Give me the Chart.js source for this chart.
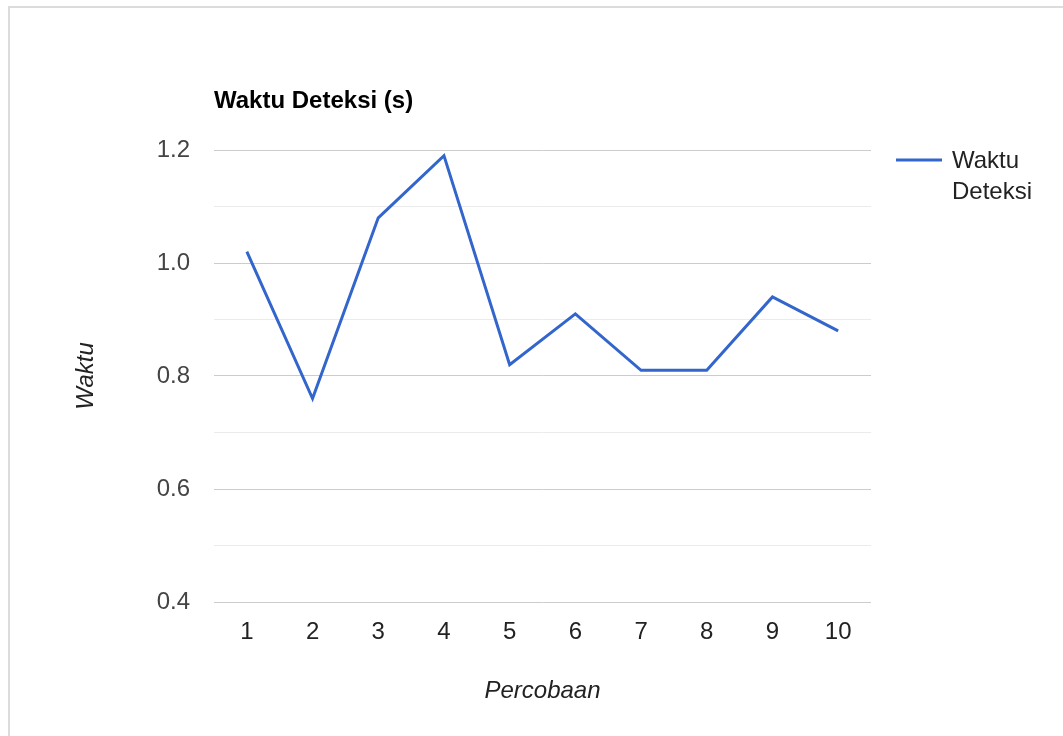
<!DOCTYPE html>
<html>
<head>
<meta charset="utf-8">
<title>Waktu Deteksi (s)</title>
<script src="https://cdn.jsdelivr.net/npm/chart.js@4"></script>
<style>
  html, body { margin: 0; padding: 0; background: #fff; }
  #wrap { position: relative; width: 1063px; height: 736px; overflow: hidden; }
  #frame { position: absolute; left: 8px; top: 6px; width: 1200px; height: 900px; border: 2px solid #dcdcdc; box-sizing: border-box; }
  #chart { position: absolute; left: 0; top: 0; }
</style>
</head>
<body>
<div id="wrap">
  <div id="frame"></div>
  <canvas id="chart" width="1063" height="736"></canvas>
</div>
<script>
// Data
const percobaan = ["1", "2", "3", "4", "5", "6", "7", "8", "9", "10"]; // x categories
const waktuDeteksi = [1.02, 0.76, 1.08, 1.19, 0.82, 0.91, 0.81, 0.81, 0.94, 0.88]; // seconds
const yMin = 0.4;
const yMax = 1.2;

const FONT = "'Liberation Sans', Arial, sans-serif";
const FONT_SIZE = 24;
const BLUE = "#3366cc";

// Draws the chart title (top left of plot) and the two-line legend on the right
const extrasPlugin = {
  id: "extras",
  afterDraw(chart) {
    const ctx = chart.ctx;
    const area = chart.chartArea;
    ctx.save();

    // title
    ctx.fillStyle = "#000";
    ctx.font = "bold " + FONT_SIZE + "px " + FONT;
    ctx.textAlign = "left";
    ctx.textBaseline = "middle";
    ctx.fillText("Waktu Deteksi (s)", area.left, area.top - 49);

    // legend
    const lx = area.right + 25;
    const ly = area.top + 10;
    ctx.strokeStyle = BLUE;
    ctx.lineWidth = 3;
    ctx.beginPath();
    ctx.moveTo(lx, ly);
    ctx.lineTo(lx + 46, ly);
    ctx.stroke();
    ctx.fillStyle = "#222";
    ctx.font = FONT_SIZE + "px " + FONT;
    ctx.fillText("Waktu", lx + 56, ly + 1);
    ctx.fillText("Deteksi", lx + 56, ly + 32);

    ctx.restore();
  },
};

const ctx = document.getElementById("chart").getContext("2d");

new Chart(ctx, {
  type: "line",
  data: {
    labels: percobaan,
    datasets: [
      {
        label: "Waktu Deteksi",
        data: waktuDeteksi,
        borderColor: BLUE,
        backgroundColor: BLUE,
        borderWidth: 3,
        pointRadius: 0,
        tension: 0,
      },
    ],
  },
  options: {
    responsive: false,
    animation: false,
    layout: { padding: { top: 150, right: 192, bottom: 0, left: 0 } },
    plugins: {
      legend: { display: false },
      tooltip: { enabled: false },
    },
    scales: {
      x: {
        offset: true,
        grid: { display: false },
        border: { display: false },
        ticks: { color: "#222", font: { family: FONT, size: FONT_SIZE }, padding: 8, maxRotation: 0 },
        title: {
          display: true,
          text: "Percobaan",
          color: "#222",
          font: { family: FONT, size: FONT_SIZE, style: "italic" },
          padding: { top: 0, bottom: 30 },
        },
        afterFit(scale) {
          scale.height = 134;
        },
      },
      y: {
        min: yMin,
        max: yMax,
        border: { display: false },
        grid: {
          drawTicks: false,
          lineWidth: 1,
          color: (c) => (Math.round(c.tick.value * 10) % 2 === 0 ? "#cccccc" : "#ebebeb"),
        },
        ticks: {
          stepSize: 0.1,
          color: "#444",
          font: { family: FONT, size: FONT_SIZE },
          padding: 24,
          callback: (v) => (Math.round(v * 10) % 2 === 0 ? Number(v).toFixed(1) : ""),
        },
        title: {
          display: true,
          text: "Waktu",
          color: "#222",
          font: { family: FONT, size: FONT_SIZE, style: "italic" },
          padding: { top: 72, bottom: 0 },
        },
        afterFit(scale) {
          scale.width = 214;
        },
      },
    },
  },
  plugins: [extrasPlugin],
});
</script>
</body>
</html>
